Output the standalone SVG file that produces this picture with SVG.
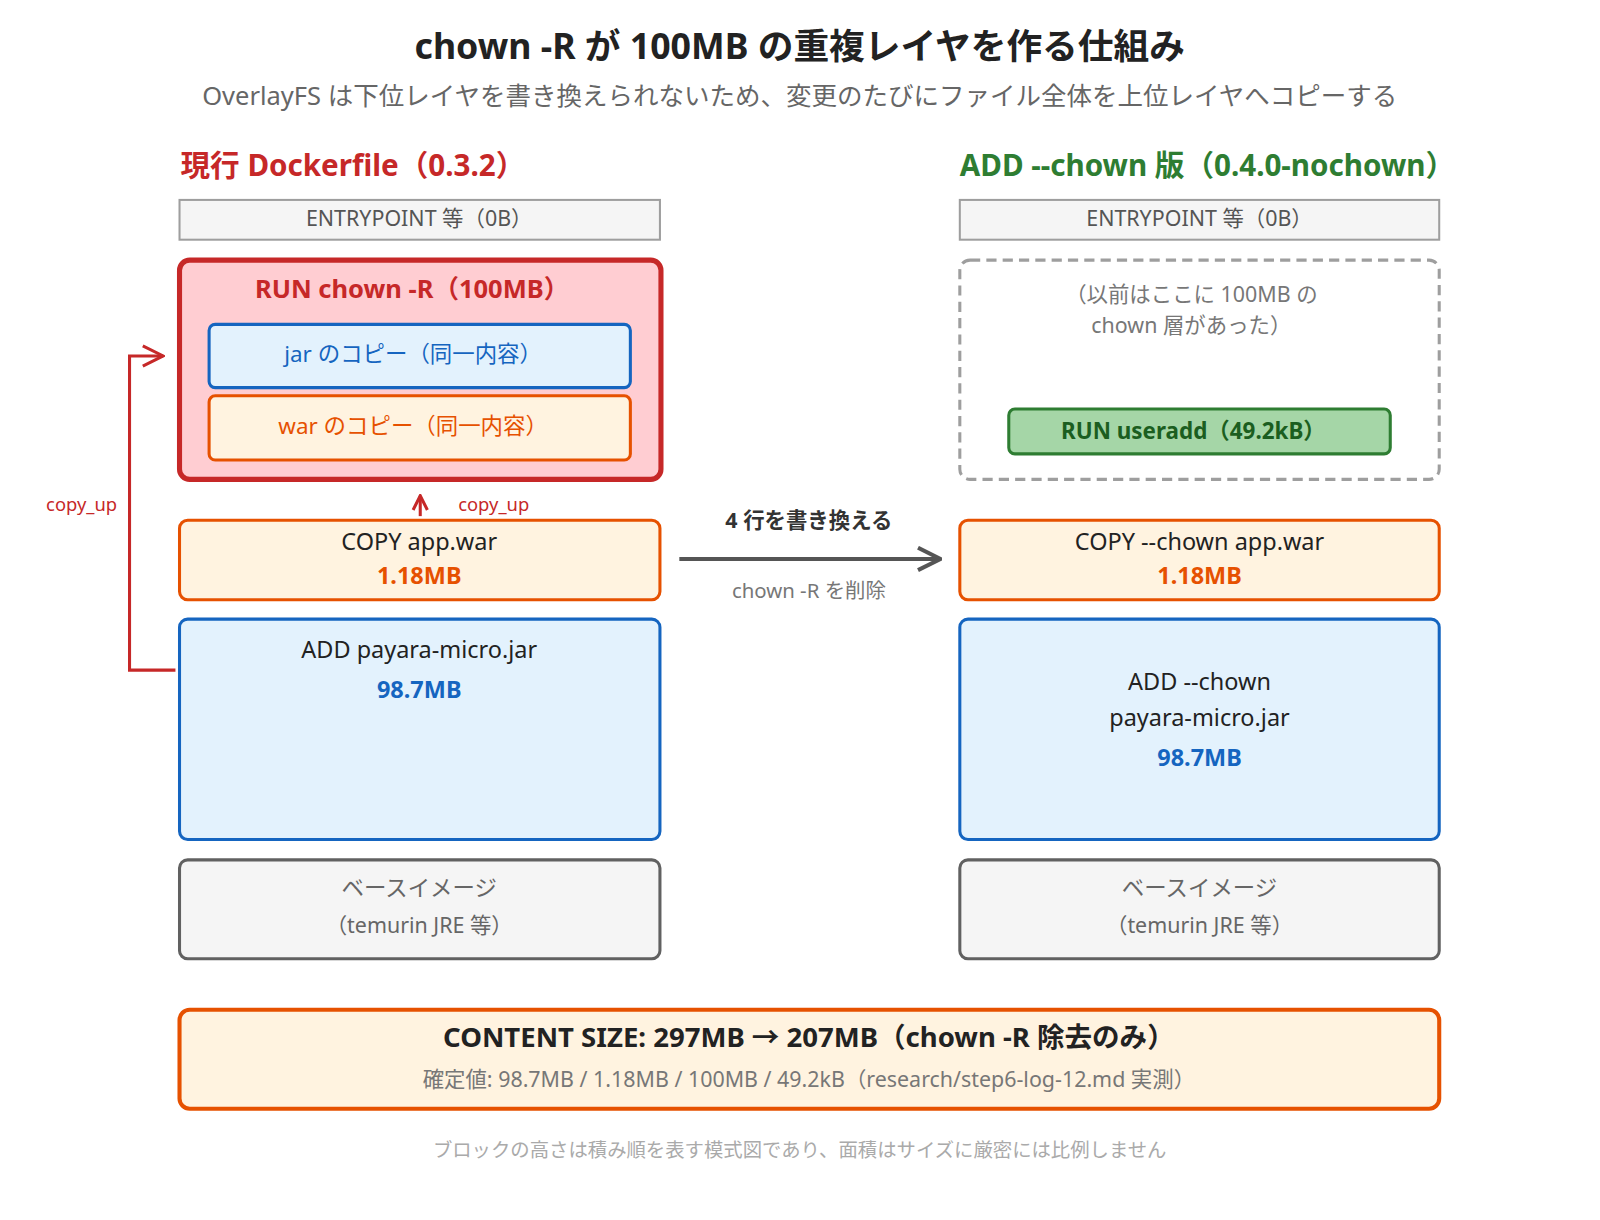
<svg xmlns="http://www.w3.org/2000/svg" width="1600" height="1220" viewBox="0 0 1600 1220">
<defs>
<style>
text{font-family:"Noto Sans","Noto Sans CJK JP",sans-serif;text-anchor:middle;dominant-baseline:middle}
.b{font-weight:bold}
.gray{fill:#f5f5f5;stroke:#9e9e9e;stroke-width:2}
.org{fill:#fff3e0;stroke:#e65100;stroke-width:3}
.blu{fill:#e3f2fd;stroke:#1565c0;stroke-width:3}
.base{fill:#f5f5f5;stroke:#616161;stroke-width:3}
</style>
<marker id="ar" viewBox="0 0 20 20" refX="10" refY="2" markerWidth="20" markerHeight="20" markerUnits="userSpaceOnUse" orient="0"><path d="M3,16 L10,2 L17,16" fill="none" stroke="#c62828" stroke-width="3"/></marker>
<marker id="ar2" viewBox="0 0 26 26" refX="24" refY="13" markerWidth="26" markerHeight="26" markerUnits="userSpaceOnUse" orient="auto"><path d="M2,2 L24,13 L2,24" fill="none" stroke="#555" stroke-width="4"/></marker>
<marker id="ar3" viewBox="0 0 24 24" refX="22" refY="12" markerWidth="24" markerHeight="24" markerUnits="userSpaceOnUse" orient="auto"><path d="M2,2 L22,12 L2,22" fill="none" stroke="#c62828" stroke-width="3"/></marker>
</defs>
<rect width="1600" height="1220" fill="#fff"/>
<g transform="scale(1.02)">
<g id="title">
<text x="784" y="48" class="b" font-size="35" fill="#222">chown -R が 100MB の重複レイヤを作る仕組み</text>
<text x="784" y="96" font-size="25" fill="#666">OverlayFS は下位レイヤを書き換えられないため、変更のたびにファイル全体を上位レイヤへコピーする</text>
<text x="177" y="165" class="b" font-size="29" fill="#c62828" style="text-anchor:start">現行 Dockerfile（0.3.2）</text>
<text x="941" y="165" class="b" font-size="29" fill="#2e7d32" style="text-anchor:start">ADD --chown 版（0.4.0-nochown）</text>
</g>
<g id="l-entry"><rect class="gray" x="176" y="196" width="471" height="39"/><text x="411" y="216" font-size="21" fill="#555">ENTRYPOINT 等（0B）</text></g>
<g id="l-run"><rect x="176" y="255" width="472" height="215" rx="10" fill="#ffcdd2" stroke="#c62828" stroke-width="5"/><text x="404" y="285" class="b" font-size="25" fill="#c62828">RUN chown -R（100MB）</text></g>
<g id="l-jar"><rect class="blu" x="205" y="318" width="413" height="62" rx="6"/><text x="405" y="349" font-size="22" fill="#1565c0">jar のコピー（同一内容）</text></g>
<g id="l-war"><rect class="org" x="205" y="388" width="413" height="63" rx="6"/><text x="405" y="420" font-size="22" fill="#e65100">war のコピー（同一内容）</text></g>
<g id="l-copy"><rect class="org" x="176" y="510" width="471" height="78" rx="8"/><text x="411" y="533" font-size="23" fill="#222">COPY app.war</text><text x="411" y="566" class="b" font-size="23" fill="#e65100">1.18MB</text></g>
<g id="l-add"><rect class="blu" x="176" y="607" width="471" height="216" rx="8"/><text x="411" y="639" font-size="23" fill="#222">ADD payara-micro.jar</text><text x="411" y="678" class="b" font-size="23" fill="#1565c0">98.7MB</text></g>
<g id="l-base"><rect class="base" x="176" y="843" width="471" height="97" rx="8"/><text x="411" y="873" font-size="22" fill="#666">ベースイメージ</text><text x="411" y="909" font-size="21" fill="#666">（temurin JRE 等）</text></g>
<g id="r-entry"><rect class="gray" x="941" y="196" width="470" height="39"/><text x="1176" y="216" font-size="21" fill="#555">ENTRYPOINT 等（0B）</text></g>
<g id="r-ghost"><rect x="941" y="255" width="470" height="215" rx="10" fill="none" stroke="#9e9e9e" stroke-width="3" stroke-dasharray="10 6"/><text x="1168" y="290" font-size="21" fill="#777">（以前はここに 100MB の</text><text x="1168" y="321" font-size="21" fill="#777">chown 層があった）</text></g>
<g id="r-useradd"><rect x="989" y="401" width="374" height="44" rx="6" fill="#a5d6a7" stroke="#2e7d32" stroke-width="3"/><text x="1170" y="424" class="b" font-size="22" fill="#1b5e20">RUN useradd（49.2kB）</text></g>
<g id="r-copy"><rect class="org" x="941" y="510" width="470" height="78" rx="8"/><text x="1176" y="533" font-size="23" fill="#222">COPY --chown app.war</text><text x="1176" y="566" class="b" font-size="23" fill="#e65100">1.18MB</text></g>
<g id="r-add"><rect class="blu" x="941" y="607" width="470" height="216" rx="8"/><text x="1176" y="670" font-size="23" fill="#222">ADD --chown</text><text x="1176" y="706" font-size="23" fill="#222">payara-micro.jar</text><text x="1176" y="745" class="b" font-size="23" fill="#1565c0">98.7MB</text></g>
<g id="r-base"><rect class="base" x="941" y="843" width="470" height="97" rx="8"/><text x="1176" y="873" font-size="22" fill="#666">ベースイメージ</text><text x="1176" y="909" font-size="21" fill="#666">（temurin JRE 等）</text></g>
<g id="summary"><rect x="176" y="990" width="1235" height="97" rx="10" fill="#fff3e0" stroke="#e65100" stroke-width="4"/><text x="793" y="1019" class="b" font-size="27" fill="#222">CONTENT SIZE: 297MB → 207MB（chown -R 除去のみ）</text><text x="793" y="1060" font-size="21" fill="#777">確定値: 98.7MB / 1.18MB / 100MB / 49.2kB（research/step6-log-12.md 実測）</text></g>
<g id="connectors">
<path d="M412,506 L412,486" stroke="#c62828" stroke-width="3" fill="none" marker-end="url(#ar)"/>
<text x="484" y="496" font-size="18" fill="#c62828">copy_up</text>
<path d="M172,657 L127,657 L127,349 L160,349" stroke="#c62828" stroke-width="3" fill="none" marker-end="url(#ar3)"/>
<text x="80" y="496" font-size="18" fill="#c62828">copy_up</text>
<path d="M666,548 L922,548" stroke="#555" stroke-width="4" fill="none" marker-end="url(#ar2)"/>
<text x="793" y="512" class="b" font-size="21" fill="#333">4 行を書き換える</text>
<text x="793" y="581" font-size="20" fill="#777">chown -R を削除</text>
</g>
<text x="784" y="1129" font-size="19" fill="#aaa">ブロックの高さは積み順を表す模式図であり、面積はサイズに厳密には比例しません</text>
</g>
</svg>
